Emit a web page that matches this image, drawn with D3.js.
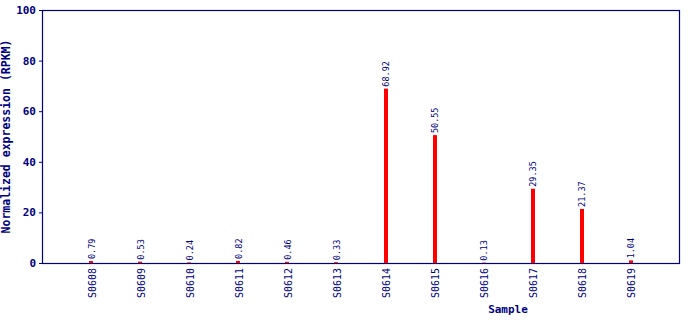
<html>
<script src="https://d3js.org/d3.v7.min.js"></script>
<style>
body{margin:0;background:#fff;}
</style>
<body>
<div class="chart"></div>
</body>
<script>
const samples = ['S0608', 'S0609', 'S0610', 'S0611', 'S0612', 'S0613', 'S0614', 'S0615', 'S0616', 'S0617', 'S0618', 'S0619'];
const values = [0.79, 0.53, 0.24, 0.82, 0.46, 0.33, 68.92, 50.55, 0.13, 29.35, 21.37, 1.04];
const yTicks = [0, 20, 40, 60, 80, 100];

const navy = '#000080';
const plotLeft = 42, plotRight = 680, plotTop = 10, plotBottom = 263;

const svg = d3.select('.chart')
    .append('svg')
        .attr('width', 690)
        .attr('height', 320);

const x = d3.scalePoint()
    .domain(samples)
    .range([plotLeft, plotRight])
    .padding(1);

const y = d3.scaleLinear()
    .domain([0, 100])
    .range([plotBottom, plotTop]);

const data = samples.map((s, i) => ({sample: s, value: values[i]}));

// frame
svg.append('rect')
    .attr('x', plotLeft + 0.5)
    .attr('y', plotTop + 0.5)
    .attr('width', plotRight - plotLeft - 1)
    .attr('height', plotBottom - plotTop)
    .attr('fill', 'none')
    .attr('stroke', navy)
    .attr('stroke-width', 1.2);

// bars
svg.append('g')
    .selectAll('rect')
    .data(data)
    .enter()
    .append('rect')
        .attr('x', d => Math.round(x(d.sample)) - 2)
        .attr('y', d => y(d.value))
        .attr('width', 4)
        .attr('height', d => plotBottom - y(d.value))
        .attr('fill', '#ff0000');

// value labels
svg.append('g')
    .selectAll('text')
    .data(data)
    .enter()
    .append('text')
        .attr('transform', d => `translate(${x(d.sample) + 0.5},${y(d.value) - 2}) rotate(-90)`)
        .attr('dominant-baseline', 'central')
        .attr('font-family', 'DejaVu Sans Mono')
        .attr('font-size', '8.5px')
        .attr('fill', navy)
        .text(d => d.value.toFixed(2));

// y axis
svg.append('g')
    .attr('transform', `translate(${plotLeft},0)`)
    .call(d3.axisLeft(y).tickValues(yTicks).tickSize(3).tickPadding(3))
    .call(g => {
        g.select('.domain').remove();
        g.selectAll('line').attr('stroke', navy);
        g.selectAll('text')
            .attr('fill', navy)
            .attr('font-family', 'DejaVu Sans Mono')
            .attr('font-weight', 'bold')
            .attr('font-size', '11px');
    });

// x axis labels
svg.append('g')
    .attr('transform', `translate(0,${plotBottom})`)
    .call(d3.axisBottom(x).tickSize(0).tickPadding(0))
    .call(g => {
        g.select('.domain').remove();
        g.selectAll('text')
            .attr('transform', 'translate(0.5,5) rotate(-90)')
            .attr('y', 0)
            .attr('dy', null)
            .attr('text-anchor', 'end')
            .attr('dominant-baseline', 'central')
            .attr('fill', navy)
            .attr('font-family', 'DejaVu Sans Mono')
            .attr('font-size', '10px');
    });

// axis titles
svg.append('text')
    .attr('x', 508)
    .attr('y', 313)
    .attr('text-anchor', 'middle')
    .attr('font-family', 'DejaVu Sans Mono')
    .attr('font-weight', 'bold')
    .attr('font-size', '11px')
    .attr('fill', navy)
    .text('Sample');

svg.append('text')
    .attr('transform', `translate(10,${(plotTop + plotBottom) / 2}) rotate(-90)`)
    .attr('text-anchor', 'middle')
    .attr('font-family', 'DejaVu Sans Mono')
    .attr('font-weight', 'bold')
    .attr('font-size', '11.5px')
    .attr('fill', navy)
    .text('Normalized expression (RPKM)');
</script>
</html>
